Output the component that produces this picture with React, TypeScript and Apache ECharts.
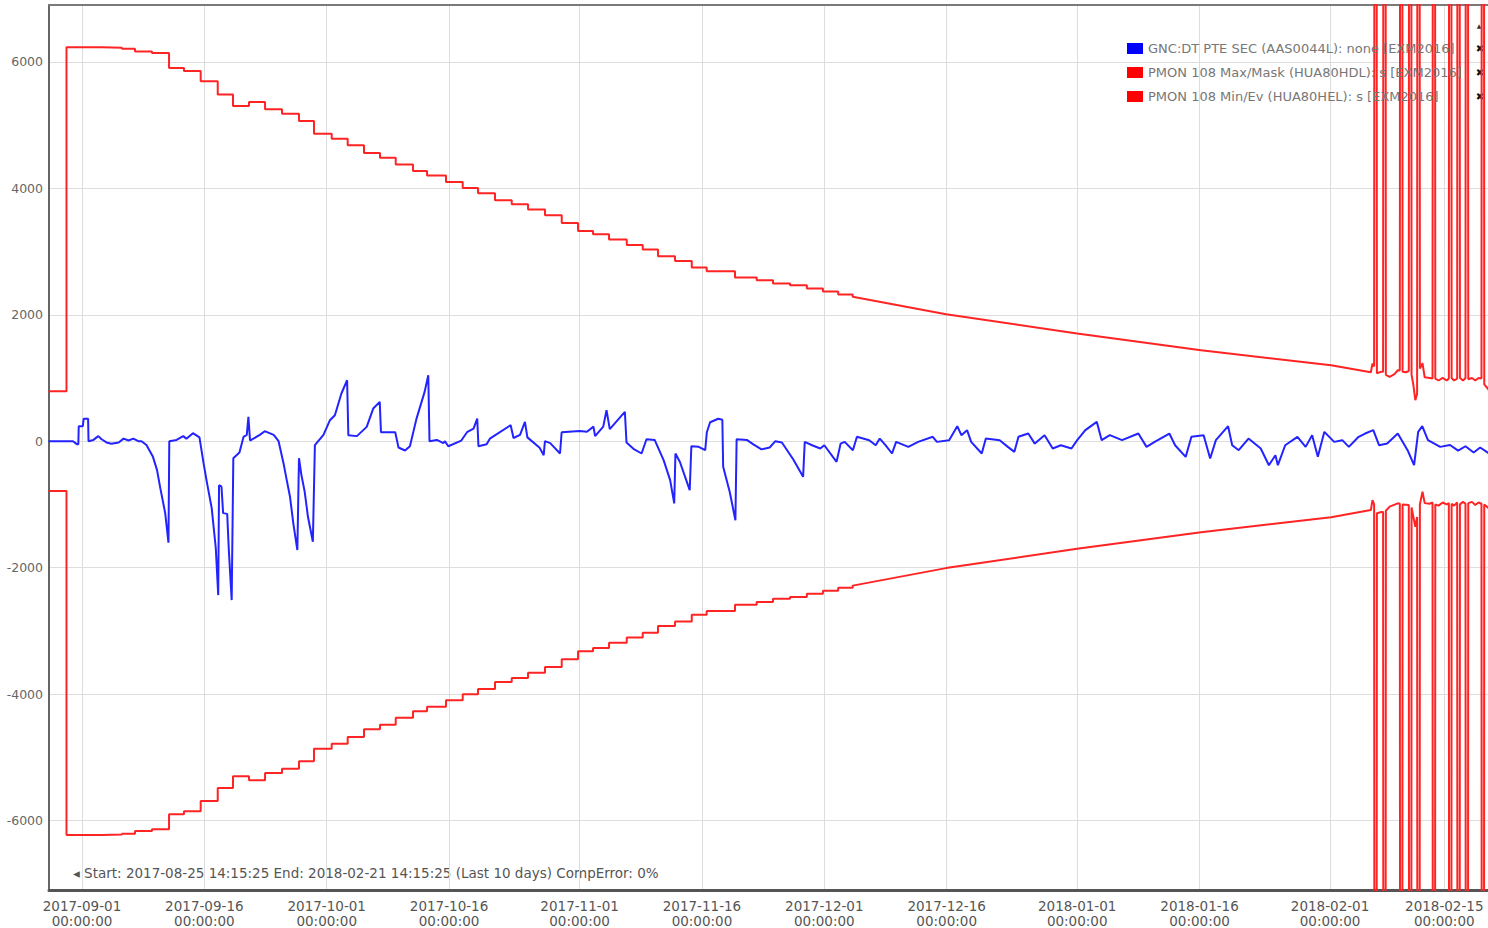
import React, { useEffect, useRef } from "react";
import * as echarts from "echarts";

const DAY = 86400000;
const T0 = Date.UTC(2017, 8, 1); // day 0 = 2017-09-01 00:00 UTC

const xRangeDays = [-4.045, 172.36];
const xTickLabels = [
  "2017-09-01", "2017-09-16", "2017-10-01", "2017-10-16", "2017-11-01", "2017-11-16",
  "2017-12-01", "2017-12-16", "2018-01-01", "2018-01-16", "2018-02-01", "2018-02-15",
];
const yRange = [-7100, 6900];
const yTickValues = [-6000, -4000, -2000, 0, 2000, 4000, 6000];

const seriesNames = [
  "GNC:DT PTE SEC (AAS0044L): none [EXM2016]",
  "PMON 108 Max/Mask (HUA80HDL): s [EXM2016]",
  "PMON 108 Min/Ev (HUA80HEL): s [EXM2016]",
];
const infoText = "\u25C2 Start: 2017-08-25 14:15:25 End: 2018-02-21 14:15:25 (Last 10 days) CompError: 0%";

// GNC:DT PTE SEC  [day since 2017-09-01, value]
const pteSec: [number, number][] = [
  [-4.1, 0], [-1.1, 0], [-0.6, -50], [-0.45, -50], [-0.4, 237], [0.1, 237], [0.2, 353], [0.75, 353], [0.8, 0],
  [1.4, 20], [2.0, 80], [2.4, 30], [3.0, -20], [3.6, -40], [4.5, -20], [5.1, 40], [5.7, 10], [6.3, 40], [6.9, 0], [7.3, 0],
  [7.9, -60], [8.7, -248], [9.2, -458], [9.6, -743], [10.2, -1138], [10.6, -1607], [10.7, 0],
  [11.6, 20], [12.4, 80], [12.8, 40], [13.6, 126], [14.4, 60], [14.9, -348], [15.3, -643], [15.9, -1060], [16.4, -1690],
  [16.7, -2435], [16.8, -696], [17.1, -720], [17.3, -1138], [17.8, -1150], [18.0, -1723], [18.35, -2514], [18.55, -269],
  [19.3, -180], [19.8, 68], [20.2, 100], [20.4, 384], [20.6, 10], [21.8, 100], [22.4, 158], [23.5, 100], [24.1, 0],
  [24.7, -348], [25.1, -616], [25.5, -880], [25.9, -1296], [26.4, -1723], [26.6, -269], [26.9, -537], [27.3, -801],
  [27.7, -1196], [28.3, -1592], [28.55, -63],
  [29.6, 100], [30.4, 332], [31.0, 411], [31.8, 754], [32.5, 964], [32.65, 95], [33.7, 80], [34.9, 226], [35.7, 516],
  [36.5, 622], [36.65, 142], [38.4, 142], [38.8, -100], [39.6, -147], [40.2, -80], [41.0, 353], [42.0, 780], [42.45, 1043], [42.6, 0],
  [43.5, 20], [44.3, -30], [44.5, 0], [44.9, -80], [46.5, 10], [47.2, 142], [48.0, 200], [48.45, 358], [48.6, -80], [49.6, -50],
  [50.0, 40], [52.55, 253], [52.9, 50], [53.7, 100], [54.3, 306], [54.6, 60], [56.1, -105], [56.6, -221], [56.75, 0], [57.4, -30],
  [58.6, -195], [58.8, 142],
  [61.0, 160], [61.9, 150], [62.7, 230], [62.9, 80], [63.9, 230], [64.3, 490], [64.7, 190], [66.55, 464], [66.75, -20],
  [67.6, -120], [68.6, -195], [69.2, 30], [70.2, 20], [71.3, -300], [72.1, -617], [72.6, -985], [72.75, -195], [73.3, -330],
  [74.5, -775], [74.7, -80], [75.6, -90], [76.4, -142], [76.6, 142], [77.0, 300], [78.0, 355], [78.5, 340], [78.6, -405],
  [79.4, -800], [80.1, -1250], [80.25, 30],
  [81.5, 20], [82.3, -50], [83.3, -130], [84.3, -100], [85.0, 0], [85.8, -20], [87.2, -290], [88.4, -564], [88.6, -11],
  [89.5, -64], [90.5, -116], [91.0, -64], [92.5, -327], [93.0, -38], [93.5, -11], [94.5, -143], [95.0, 69], [96.5, 16],
  [97.3, -64], [97.8, 42], [98.5, -64], [99.3, -195], [99.8, -11], [101.3, -90], [102.5, -11], [104.3, 69], [104.8, -11],
  [106.3, 16], [107.3, 237], [107.8, 95], [108.5, 174], [109.0, -11], [110.3, -195], [110.8, 42], [112.5, 16], [113.5, -90],
  [114.3, -169], [114.8, 69], [116.0, 121], [116.8, -38], [118.0, 95], [119.0, -116], [120.0, -64], [121.3, -116], [122.0, 16],
  [123.0, 174], [124.4, 306], [125.0, 16], [126.0, 95], [127.5, 16], [129.5, 121], [130.5, -90], [131.5, -11], [133.3, 121],
  [134.0, -64], [135.3, -248], [136.0, 69], [137.5, 95], [138.3, -274], [139.0, 16], [140.5, 237], [141.0, -64], [141.8, -143],
  [143.0, 42], [144.5, -116], [145.5, -380], [146.3, -222], [146.6, -380], [147.5, -64], [149.0, 69], [150.0, -90], [150.8, 95],
  [151.5, -248], [152.3, 148], [153.5, -11], [154.5, 16], [155.3, -90], [156.5, 69], [157.3, 121], [158.3, 174], [159.0, -64],
  [160.0, -38], [161.3, 121], [162.5, -143], [163.3, -380], [163.8, 148], [164.3, 237], [165.0, 16], [166.5, -90], [167.7, -60],
  [168.7, -150], [169.6, -80], [170.6, -180], [171.4, -100], [172.8, -220],
];

// PMON limits: stepped part (value holds from each day to the next)
const maskStepDays = [
  -4.1, -1.9, 2.45, 4.9, 6.5, 8.58, 10.67, 12.5, 14.55, 16.64, 18.51, 20.47, 22.44, 24.52, 26.6, 28.44, 30.61, 32.57,
  34.57, 36.53, 38.46, 40.58, 42.3, 44.62, 46.67, 48.55, 50.63, 52.68, 54.68, 56.76, 58.81, 60.81, 62.65, 64.61, 66.78,
  68.74, 70.61, 72.7, 74.75, 76.58, 80.05, 82.71, 84.71, 86.8, 88.86, 90.83, 92.7,
];
const maskMaxSteps = [
  790, 6230, 6224, 6209, 6166, 6139, 5902, 5855, 5692, 5486, 5301, 5364, 5249, 5181, 5064, 4865, 4786, 4680,
  4558, 4485, 4375, 4273, 4201, 4100, 4005, 3921, 3810, 3747, 3663, 3573, 3451, 3325, 3273, 3189, 3104,
  3031, 2925, 2851, 2746, 2688, 2588, 2545, 2493, 2466, 2414, 2367, 2319,
];
const maskMinSteps = [
  -790, -6230, -6224, -6209, -6166, -6139, -5902, -5855, -5692, -5486, -5301, -5364, -5249, -5181, -5064, -4865, -4786, -4680,
  -4558, -4485, -4375, -4273, -4201, -4100, -4005, -3921, -3810, -3747, -3663, -3573, -3451, -3325, -3273, -3189, -3104,
  -3031, -2925, -2851, -2746, -2688, -2588, -2545, -2493, -2466, -2414, -2367, -2319,
];
// smooth ramp part
const maskRampDays = [94.48, 105.92, 121.98, 137.18, 153.12, 158.0];
const maskMaxRamp = [2285, 2008, 1703, 1439, 1202, 1090];
const maskMinRamp = [-2285, -2008, -1703, -1439, -1202, -1090];
// last days: values with out-of-range spikes
const OFF_HI = 9000;
const OFF_LO = -9000;
const maskMaxTail: [number, number][] = [
  [158.2, 1228], [158.4, 1180], [158.43, OFF_HI], [158.71, OFF_HI], [158.74, 1075],
  [159.3, 1100], [159.5, 1100], [159.53, OFF_HI], [159.81, OFF_HI], [159.84, 1050],
  [160.3, 1017], [160.9, 1060], [161.3, 1122], [161.55, 1120], [161.58, OFF_HI], [161.86, OFF_HI], [161.89, 1100],
  [162.3, 1090], [162.65, 1110], [162.68, OFF_HI], [162.96, OFF_HI], [162.99, 1050],
  [163.2, 900], [163.45, 648], [163.67, 750], [163.7, OFF_HI], [163.98, OFF_HI], [164.01, 1150],
  [164.33, 1233], [164.6, 1010], [165.2, 1000], [165.56, 990], [165.59, OFF_HI], [165.87, OFF_HI], [165.9, 990],
  [166.3, 960], [166.8, 1000], [167.3, 960], [167.56, 990], [167.59, OFF_HI], [167.87, OFF_HI], [167.9, 1000],
  [168.2, 960], [168.58, 990], [168.61, OFF_HI], [168.89, OFF_HI], [168.92, 1000],
  [169.3, 960], [169.6, 1000], [169.63, OFF_HI], [169.91, OFF_HI], [169.94, 980],
  [170.4, 1000], [170.8, 960], [171.2, 1000], [171.56, 990], [171.59, OFF_HI], [171.87, OFF_HI], [171.9, 900],
  [172.8, 760],
];
const maskMinTail: [number, number][] = [
  [158.2, -933], [158.4, -1000], [158.43, OFF_LO], [158.71, OFF_LO], [158.74, -1140],
  [159.3, -1120], [159.5, -1120], [159.53, OFF_LO], [159.81, OFF_LO], [159.84, -1100],
  [160.3, -1035], [161.3, -983], [161.55, -990], [161.58, OFF_LO], [161.86, OFF_LO], [161.89, -1000],
  [162.65, -1010], [162.68, OFF_LO], [162.96, OFF_LO], [162.99, -1050],
  [163.45, -1355], [163.67, -1200], [163.7, OFF_LO], [163.98, OFF_LO], [164.01, -1000],
  [164.33, -801], [164.6, -980], [165.2, -990], [165.56, -970], [165.59, OFF_LO], [165.87, OFF_LO], [165.9, -1000],
  [166.3, -1020], [166.8, -970], [167.3, -1000], [167.56, -980], [167.59, OFF_LO], [167.87, OFF_LO], [167.9, -990],
  [168.2, -1020], [168.58, -970], [168.61, OFF_LO], [168.89, OFF_LO], [168.92, -1000],
  [169.3, -960], [169.6, -990], [169.63, OFF_LO], [169.91, OFF_LO], [169.94, -980],
  [170.4, -960], [170.8, -1010], [171.2, -970], [171.56, -990], [171.59, OFF_LO], [171.87, OFF_LO], [171.9, -1000],
  [172.8, -1100],
];

const toTime = (d: number) => T0 + d * DAY;

function buildMask(stepDays: number[], stepVals: number[], rampDays: number[], rampVals: number[], tail: [number, number][]) {
  const pts: [number, number][] = [];
  for (let i = 0; i < stepDays.length; i++) {
    const next = i + 1 < stepDays.length ? stepDays[i + 1] : rampDays[0];
    pts.push([toTime(stepDays[i]), stepVals[i]]);
    pts.push([toTime(next), stepVals[i]]);
  }
  rampDays.forEach((d, i) => pts.push([toTime(d), rampVals[i]]));
  tail.forEach(([d, v]) => pts.push([toTime(d), v]));
  return pts;
}

const parseDay = (s: string) => {
  const [y, m, d] = s.split("-").map(Number);
  return Date.UTC(y, m - 1, d);
};

const pad = (n: number) => (n < 10 ? "0" + n : "" + n);
const FONT = "DejaVu Sans";

export default function App() {
  const ref = useRef<HTMLDivElement>(null);
  useEffect(() => {
    if (!ref.current) return;
    const chart = echarts.init(ref.current, undefined, { renderer: "svg" });
    const tickTimes = xTickLabels.map(parseDay);
    const red = "#ff2424";
    const xMin = toTime(xRangeDays[0]);
    const xMax = toTime(xRangeDays[1]);
    const xMark = (y: number) => ({
      type: "text", x: 1480, y,
      style: { text: "\u2716", fill: "#111111", font: `bold 10px '${FONT}'`, align: "center", verticalAlign: "middle" },
    });
    const option: any = {
      animation: false,
      useUTC: true,
      backgroundColor: "#ffffff",
      grid: { left: 49, right: 0, top: 5, bottom: 38, show: false },
      xAxis: [
        {
          type: "value",
          min: xMin,
          max: xMax,
          axisLine: { show: true, onZero: false, lineStyle: { color: "#555555", width: 3 } },
          axisTick: { show: false, customValues: tickTimes },
          axisLabel: {
            customValues: tickTimes,
            formatter: (v: number) => {
              const dt = new Date(v);
              return `${dt.getUTCFullYear()}-${pad(dt.getUTCMonth() + 1)}-${pad(dt.getUTCDate())}\n${pad(dt.getUTCHours())}:${pad(dt.getUTCMinutes())}:${pad(dt.getUTCSeconds())}`;
            },
            color: "#555555", fontSize: 13.5, fontFamily: FONT, lineHeight: 15, margin: 8,
          },
          splitLine: { show: true, lineStyle: { color: "#dddddd", width: 1 } },
        },
        {
          type: "value",
          position: "top",
          min: xMin,
          max: xMax,
          axisLine: { show: true, onZero: false, lineStyle: { color: "#7a7a7a", width: 2 } },
          axisTick: { show: false },
          axisLabel: { show: false },
          splitLine: { show: false },
        },
      ],
      yAxis: {
        type: "value",
        min: yRange[0],
        max: yRange[1],
        axisLine: { show: true, onZero: false, lineStyle: { color: "#666666", width: 2 } },
        axisTick: { show: false, customValues: yTickValues },
        axisLabel: {
          customValues: yTickValues,
          formatter: (v: number) => String(v),
          color: "#666666", fontSize: 12.5, fontFamily: FONT, margin: 6,
        },
        splitLine: { show: true, lineStyle: { color: "#dddddd", width: 1 } },
      },
      legend: {
        orient: "vertical", left: 1127, top: 42, padding: 0,
        itemWidth: 16, itemHeight: 11, itemGap: 11, icon: "rect",
        textStyle: { color: "#777777", fontSize: 13, fontFamily: FONT },
        data: seriesNames,
      },
      series: [
        {
          name: seriesNames[0], type: "line", showSymbol: false, symbol: "none", z: 3,
          data: pteSec.map(([d, v]) => [toTime(d), v]),
          lineStyle: { color: "#2323ff", width: 2 }, itemStyle: { color: "#0000ff" },
        },
        {
          name: seriesNames[1], type: "line", showSymbol: false, symbol: "none", z: 2,
          data: buildMask(maskStepDays, maskMaxSteps, maskRampDays, maskMaxRamp, maskMaxTail),
          lineStyle: { color: red, width: 2 }, itemStyle: { color: "#ff0000" },
        },
        {
          name: seriesNames[2], type: "line", showSymbol: false, symbol: "none", z: 2,
          data: buildMask(maskStepDays, maskMinSteps, maskRampDays, maskMinRamp, maskMinTail),
          lineStyle: { color: red, width: 2 }, itemStyle: { color: "#ff0000" },
        },
      ],
      graphic: [
        { type: "text", left: 73, top: 866, style: { text: infoText, fill: "#555555", font: `13.5px '${FONT}'` } },
        xMark(48), xMark(72), xMark(96),
        { type: "text", x: 1479, y: 25, style: { text: "\u25B2", fill: "#333333", font: `6px '${FONT}'`, align: "center", verticalAlign: "middle" } },
      ],
    };
    chart.setOption(option);
    return () => chart.dispose();
  }, []);
  return <div ref={ref} style={{ position: "fixed", left: 0, top: 0, width: 1488, height: 928 }} />;
}
